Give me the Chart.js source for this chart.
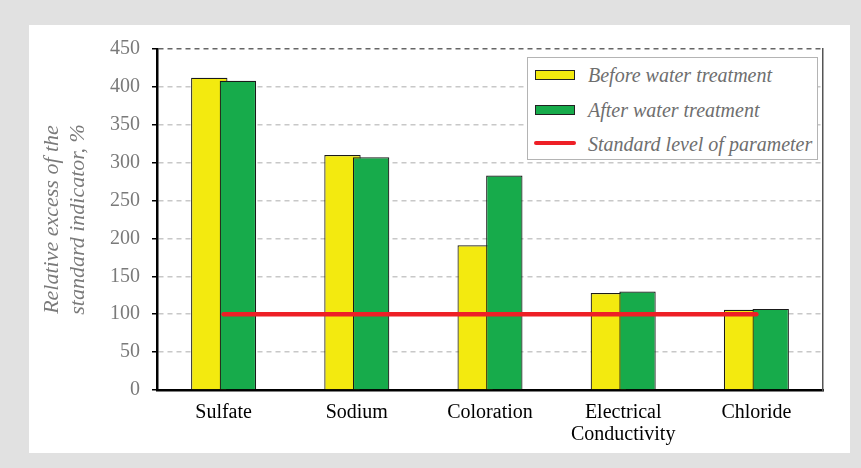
<!DOCTYPE html>
<html>
<head>
<meta charset="utf-8">
<script src="https://cdn.jsdelivr.net/npm/chart.js@4"></script>
<style>
  html, body { margin: 0; padding: 0; }
  body { width: 861px; height: 468px; background: #e1e1e1; position: relative; overflow: hidden; }
  #panel { position: absolute; left: 29px; top: 25px; width: 821px; height: 428px; background: #fff; }
  #chart { position: absolute; left: 0; top: 0; }
  #legend {
    position: absolute; left: 498px; top: 32px; width: 289px; height: 101px;
    border: 1.5px solid #b4b4b4; background: #fff;
    font-family: "Liberation Serif", "Times New Roman", serif; font-style: italic;
    font-size: 20px; color: #6e6e6e;
  }
  .item { position: absolute; left: 0; height: 24px; line-height: 24px; white-space: nowrap; }
  .item span.txt { position: absolute; left: 60px; top: 0; }
  .sw { position: absolute; left: 7px; top: 7px; width: 38px; height: 8px; border: 1px solid #222; }
  .ln { position: absolute; left: 6px; top: 9px; width: 42px; height: 4px; border-radius: 2px; }
</style>
</head>
<body>
<div id="panel">
  <canvas id="chart" width="821" height="428"></canvas>
  <div id="legend"></div>
</div>
<script>
const categories = ["Sulfate", "Sodium", "Coloration", ["Electrical", "Conductivity"], "Chloride"];
const beforeTreatment = [412, 310, 191, 128, 106];
const afterTreatment = [408, 307, 283, 130, 107];
const standardLevel = [100, 100, 100, 100, 100];
const seriesNames = ["Before water treatment", "After water treatment", "Standard level of parameter"];

const serif = "'Liberation Serif', 'Times New Roman', serif";

// green is drawn over yellow where the bars overlap
const drawOrder = {
  id: "drawOrder",
  beforeDatasetDraw(chart, args) {
    if (args.index === 0) return false;
    if (args.index === 1) chart.getDatasetMeta(0).controller.draw();
  },
};

const chart = new Chart(document.getElementById("chart"), {
  type: "bar",
  data: {
    labels: categories,
    datasets: [
      {
        label: seriesNames[0],
        data: beforeTreatment,
        backgroundColor: "#f3ea0f",
        borderColor: "#1a1a1a",
        borderWidth: 1.2,
        categoryPercentage: 0.43,
        barPercentage: 1.27,
      },
      {
        label: seriesNames[1],
        data: afterTreatment,
        backgroundColor: "#17ab4b",
        borderColor: "#1a1a1a",
        borderWidth: 1.2,
        categoryPercentage: 0.43,
        barPercentage: 1.27,
      },
      {
        type: "line",
        label: seriesNames[2],
        data: standardLevel,
        borderColor: "#ee1f26",
        borderWidth: 4.5,
        borderCapStyle: "round",
        pointRadius: 0,
        order: -1,
      },
    ],
  },
  options: {
    responsive: false,
    animation: false,
    layout: { padding: { top: 23, right: 27, left: 0, bottom: 0 } },
    plugins: { legend: { display: false }, tooltip: { enabled: false } },
    scales: {
      x: {
        grid: { display: false, drawTicks: false },
        border: { color: "#000", width: 2.5 },
        ticks: { color: "#000", font: { family: serif, size: 20, lineHeight: 1.1 }, padding: 12, maxRotation: 0, autoSkip: false },
        afterFit(scale) { scale.height = 63; },
      },
      y: {
        min: 0,
        max: 450,
        ticks: { stepSize: 50, color: "#7a7a7a", font: { family: serif, size: 20 }, padding: 12 },
        grid: {
          color: (ctx) => (ctx.tick && ctx.tick.value === 450 ? "#666" : "#c8c8c8"),
          lineWidth: 1.5,
          tickLength: 5,
          tickColor: "#000",
          tickWidth: 1.5,
        },
        border: { color: "#000", width: 2.5, dash: [5, 4] },
        title: {
          display: true,
          text: ["Relative excess of the", "standard indicator, %"],
          color: "#7a7a7a",
          font: { family: serif, size: 22, style: "italic", lineHeight: 1.15 },
          padding: { top: 11, bottom: 0 },
        },
        afterFit(scale) { scale.width = 128; },
      },
      y2: {
        position: "right",
        grid: { drawOnChartArea: false, drawTicks: false },
        ticks: { display: false },
        border: { color: "#555", width: 1.5 },
        afterFit(scale) { scale.width = 0; },
      },
    },
  },
  plugins: [drawOrder],
});

// legend box inside the plot, built from the datasets
const legend = document.getElementById("legend");
const rowTops = [5, 40, 74];
chart.data.datasets.forEach((ds, i) => {
  const item = document.createElement("div");
  item.className = "item";
  item.style.top = rowTops[i] + "px";
  const mark = document.createElement("span");
  if (ds.type === "line") {
    mark.className = "ln";
    mark.style.background = ds.borderColor;
  } else {
    mark.className = "sw";
    mark.style.background = ds.backgroundColor;
  }
  const txt = document.createElement("span");
  txt.className = "txt";
  txt.textContent = ds.label;
  item.appendChild(mark);
  item.appendChild(txt);
  legend.appendChild(item);
});
</script>
</body>
</html>
